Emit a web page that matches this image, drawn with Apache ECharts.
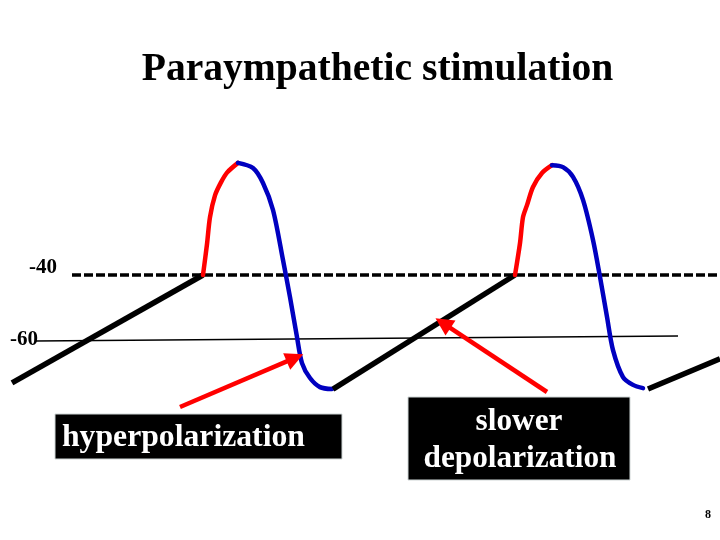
<!DOCTYPE html>
<html>
<head>
<meta charset="utf-8">
<script src="https://cdn.jsdelivr.net/npm/echarts@6/dist/echarts.min.js"></script>
<style>html,body{margin:0;padding:0;background:#fff}#chart{width:720px;height:540px}</style>
</head>
<body>
<div id="chart"></div>
<script>
// Membrane potential trace (x: time, arbitrary units; y: mV)
const titleText = 'Paraympathetic stimulation';
const levelLabels = ['-40', '-60'];
const threshold = -40;
const restLevel = [[35, -60.3], [678, -58.8]];
const thresholdSpan = [72, 720];

const rest1 = [[12, -73.2], [203, -40]];
const upstroke1 = [[203, -40], [207, -30.5], [210, -22.2], [215, -15.5], [221, -11.5], [227, -8.5], [238, -5.5]];
const repol1 = [[238, -5.5], [253, -7.1], [263, -11.7], [273, -20], [283, -35.4], [290, -46.8], [297, -59.1], [302, -67.1], [310, -71.7], [320, -74.5], [332, -75.1]];
const rest2 = [[333, -75.1], [515, -40]];
const upstroke2 = [[515, -40], [520, -30.2], [523, -22.2], [527, -18.5], [533, -12.9], [542, -8.6], [552, -6.2]];
const repol2 = [[552, -6.2], [563, -6.8], [573, -9.8], [583, -16.9], [593, -29.2], [600, -40.6], [607, -52.9], [613, -63.1], [623, -71.4], [633, -73.8], [643, -74.8]];
const rest3 = [[648, -75.1], [720, -65.8]];

const arrows = [
  [[180, -80.6], [295, -65.5]],
  [[547, -76], [443, -54.8]]
];
const boxLabels = ['hyperpolarization', 'slower', 'depolarization'];
const pageNumber = '8';

const serif = '"Liberation Serif", "Times New Roman", serif';
const chart = echarts.init(document.getElementById('chart'));

function seg(data, color, width, smooth) {
  return {
    type: 'line', data: data, showSymbol: false, symbol: 'none', smooth: smooth || false,
    lineStyle: { color: color, width: width, cap: 'round', join: 'round' },
    silent: true, animation: false, z: 3
  };
}
function restSeg(data) {
  return {
    type: 'line', data: data, showSymbol: false, symbol: 'none',
    lineStyle: { color: '#000', width: 5.5, cap: 'butt' },
    silent: true, animation: false, z: 3
  };
}

chart.setOption({
  animation: false,
  backgroundColor: '#ffffff',
  grid: { left: 0, right: 0, top: 15, height: 520 },
  xAxis: { type: 'value', min: 0, max: 720, show: false },
  yAxis: { type: 'value', min: -120, max: 40, show: false },
  series: [
    {
      type: 'line', data: [[thresholdSpan[0], threshold], [thresholdSpan[1], threshold]],
      symbol: 'none', silent: true, z: 2,
      lineStyle: { color: '#000', width: 3.5, type: [9, 3] }
    },
    {
      type: 'line', data: restLevel, symbol: 'none', silent: true, z: 2,
      lineStyle: { color: '#000', width: 1.5 }
    },
    restSeg(rest1),
    seg(upstroke1, '#ff0000', 4.5, 0.3),
    seg(repol1, '#0000c0', 4.5, 0.3),
    restSeg(rest2),
    seg(upstroke2, '#ff0000', 4.5, 0.3),
    seg(repol2, '#0000c0', 4.5, 0.3),
    restSeg(rest3),
    {
      type: 'lines', coordinateSystem: 'cartesian2d', silent: true, z: 4,
      symbol: ['none', 'triangle'], symbolSize: [16, 18],
      lineStyle: { color: '#ff0000', width: 4.5, opacity: 1 },
      itemStyle: { color: '#ff0000' },
      data: arrows.map(a => ({ coords: a }))
    }
  ],
  graphic: [
    { type: 'text', x: 377.5, y: 70, style: { text: titleText, font: 'bold 39.6px ' + serif, fill: '#000', align: 'center', verticalAlign: 'middle' } },
    { type: 'text', x: 57, y: 268, style: { text: levelLabels[0], font: 'bold 21px ' + serif, fill: '#000', align: 'right', verticalAlign: 'middle' } },
    { type: 'text', x: 38, y: 340, style: { text: levelLabels[1], font: 'bold 21px ' + serif, fill: '#000', align: 'right', verticalAlign: 'middle' } },
    { type: 'rect', shape: { x: 55, y: 414, width: 287, height: 45 }, style: { fill: '#000', stroke: '#cfd6d6', lineWidth: 1 }, z: 5 },
    { type: 'text', x: 62, y: 438, z: 6, style: { text: boxLabels[0], font: 'bold 31.7px ' + serif, fill: '#fff', align: 'left', verticalAlign: 'middle' } },
    { type: 'rect', shape: { x: 408, y: 397, width: 222, height: 83 }, style: { fill: '#000', stroke: '#cfd6d6', lineWidth: 1 }, z: 5 },
    { type: 'text', x: 519, y: 422, z: 6, style: { text: boxLabels[1], font: 'bold 31.3px ' + serif, fill: '#fff', align: 'center', verticalAlign: 'middle' } },
    { type: 'text', x: 520, y: 459, z: 6, style: { text: boxLabels[2], font: 'bold 31.3px ' + serif, fill: '#fff', align: 'center', verticalAlign: 'middle' } },
    { type: 'text', x: 708, y: 515, style: { text: pageNumber, font: 'bold 12px ' + serif, fill: '#000', align: 'center', verticalAlign: 'middle' } }
  ]
});
</script>
</body>
</html>
